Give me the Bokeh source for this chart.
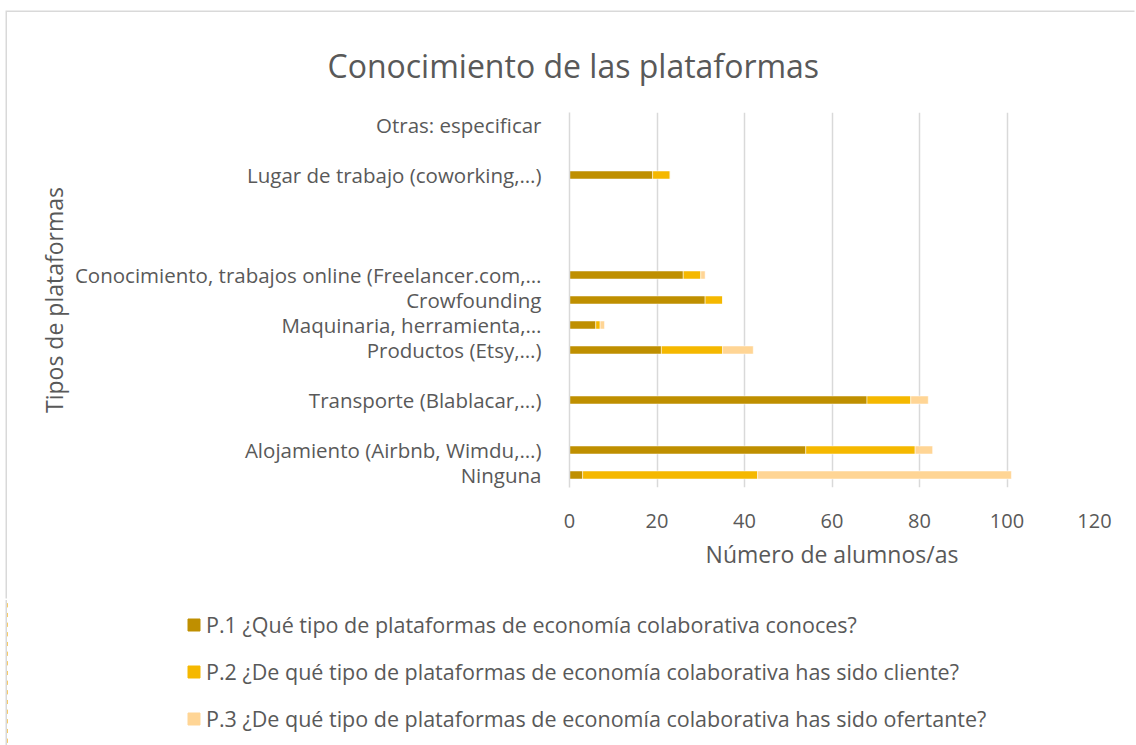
from bokeh.plotting import figure
from bokeh.models import FactorRange, Range1d, Legend, LegendItem, Title, FixedTicker
from bokeh.embed import file_html
from bokeh.resources import INLINE

categories = ["Ninguna", "Alojamiento (Airbnb, Wimdu,…)", " ", "Transporte (Blablacar,…)", "  ",
              "Productos (Etsy,…)", "Maquinaria, herramienta,…", "Crowfounding",
              "Conocimiento, trabajos online (Freelancer.com,…", "   ", "    ", "     ",
              "Lugar de trabajo (coworking,…)", "      ", "Otras: especificar"]
p1 = [3, 54, 0, 68, 0, 21, 6, 31, 26, 0, 0, 0, 19, 0, 0]
p2 = [40, 25, 0, 10, 0, 14, 1, 4, 4, 0, 0, 0, 4, 0, 0]
p3 = [58, 4, 0, 4, 0, 7, 1, 0, 1, 0, 0, 0, 0, 0, 0]
series = ["P.1 ¿Qué tipo de plataformas de economía colaborativa conoces?",
          "P.2 ¿De qué tipo de plataformas de economía colaborativa has sido cliente?",
          "P.3 ¿De qué tipo de plataformas de economía colaborativa has sido ofertante?"]
colors = ["#BF8F00", "#F5B800", "#FFD595"]
x_ticks = [0, 20, 40, 60, 80, 100, 120]

FONT = "Open Sans"
GREY = "#595959"
BORDER = "#D9D9D9"

data = {"cat": categories, "p1": p1, "p2": p2, "p3": p3}

# main chart: absolute canvas starts at (7, 12)
p = figure(width=1129, height=588, margin=(12, 0, 0, 7),
           styles={"box-shadow": "-1.5px -1.5px 0 0 " + BORDER},
           y_range=FactorRange(*categories, range_padding=0),
           x_range=Range1d(0, 120), output_backend="svg", toolbar_location=None,
           min_border_left=562, min_border_right=42, min_border_top=100, min_border_bottom=113)
p.outline_line_color = None

p.hbar_stack(["p1", "p2", "p3"], y="cat", height=0.32, color=colors,
             line_color="white", line_width=0.5, source=data)

p.xaxis.ticker = FixedTicker(ticks=x_ticks)
p.xaxis.axis_line_color = None
p.xaxis.major_tick_line_color = None
p.xaxis.minor_tick_line_color = None
p.xaxis.major_label_text_font = FONT
p.xaxis.major_label_text_font_size = "20px"
p.xaxis.major_label_text_color = GREY
p.xaxis.major_label_standoff = 20
p.xaxis.axis_label = "Número de alumnos/as"
p.xaxis.axis_label_text_font = FONT
p.xaxis.axis_label_text_font_size = "23px"
p.xaxis.axis_label_text_font_style = "normal"
p.xaxis.axis_label_text_color = GREY
p.xaxis.axis_label_standoff = 7

p.yaxis.axis_line_color = BORDER
p.yaxis.axis_line_width = 1.5
p.yaxis.major_tick_line_color = None
p.yaxis.minor_tick_line_color = None
p.yaxis.major_label_text_font = FONT
p.yaxis.major_label_text_font_size = "20.5px"
p.yaxis.major_label_text_color = GREY
p.yaxis.major_label_standoff = 22
p.yaxis.axis_label = "Tipos de plataformas"
p.yaxis.axis_label_text_font = FONT
p.yaxis.axis_label_text_font_size = "23px"
p.yaxis.axis_label_text_font_style = "normal"
p.yaxis.axis_label_text_color = GREY
p.yaxis.axis_label_standoff = 2

p.xgrid.grid_line_color = BORDER
p.xgrid.grid_line_width = 1.5
p.ygrid.grid_line_color = None

p.add_layout(Title(text="Conocimiento de las plataformas", text_font=FONT, text_font_size="32px",
                   text_font_style="normal", text_color=GREY, align="left",
                   offset=-242, standoff=51), "above")

# legend strip below the chart (separate root, so its frame spans the full width)
lf = figure(width=1129, height=145, margin=(0, 0, 0, 7),
            styles={"box-shadow": "-1.5px 0 0 0 " + BORDER},
            y_range=FactorRange(*categories), x_range=Range1d(1000, 1001),
            x_axis_location=None, y_axis_location=None,
            output_backend="svg", toolbar_location=None,
            min_border=0, min_border_left=0, min_border_right=0, min_border_top=0, min_border_bottom=0)
lf.outline_line_color = None
lf.grid.grid_line_color = None
proxies = lf.hbar_stack(["p1", "p2", "p3"], y="cat", height=0.32, color=colors, source=data)
items = [LegendItem(label=s, renderers=[r]) for s, r in zip(series, proxies)]
legend = Legend(items=items, location=(179, 12), orientation="vertical",
                label_text_font=FONT, label_text_font_size="21.5px", label_text_color=GREY,
                glyph_width=15, glyph_height=15, label_height=28, spacing=18, label_standoff=5,
                padding=0, margin=0, border_line_color=None, background_fill_alpha=0)
lf.add_layout(legend, "center")

open("out.html", "w").write(file_html([p, lf], INLINE))
